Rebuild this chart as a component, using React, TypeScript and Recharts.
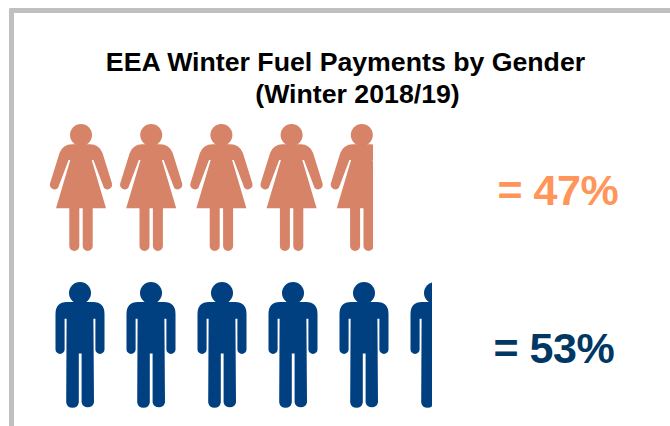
import { Bar, BarChart, LabelList, XAxis, YAxis } from "recharts";

const genders = ["Women", "Men"];
const iconCounts = [4.64, 5.475];
const shareLabels = ["= 47%", "= 53%"];

const chartData = genders.map((gender, i) => ({
  gender,
  icons: iconCounts[i],
  label: shareLabels[i],
}));

const colors = {
  frame: "#c0c0c0",
  Women: "#d68367",
  Men: "#003f80",
  labelWomen: "#ff9558",
  labelMen: "#003764",
};

const fontFamily = '"Liberation Sans", Arial, sans-serif';

const womanPath =
  "M-9 20.3 Q-18 20.3 -21.5 29 L-31 59.5 A4.8 4.8 0 0 0 -23 64 L-12.4 36 L-10.7 36 L-25 84.3 L-1.7 84.3 L-1.7 122 " +
  "A5 5 0 0 1 -11.7 122 L-11.7 84.3 L-1.7 84.3 L1.7 84.3 L11.7 84.3 L11.7 122 A5 5 0 0 1 1.7 122 L1.7 84.3 L25 84.3 " +
  "L10.7 36 L12.4 36 L23 64 A4.8 4.8 0 0 0 31 59.5 L21.5 29 Q18 20.3 9 20.3 Z";

const manPath =
  "M-13 20 Q-24.5 20 -24.5 32 L-24.5 67.4 A4.55 4.55 0 0 0 -15.4 67.4 L-15.4 36.8 L-13.4 36.8 L-13.8 120.5 " +
  "A6.4 6.4 0 0 0 -1.2 120.5 L-1.2 71.5 L1.6 71.5 L1.6 120.5 A6.4 6.4 0 0 0 14 120.5 L13.4 36.8 L15.4 36.8 L15.4 67.4 " +
  "A4.55 4.55 0 0 0 24.5 67.4 L24.5 32 Q24.5 20 13 20 Z";

const iconLayout: Record<string, { path: string; firstCenter: number; step: number }> = {
  Women: { path: womanPath, firstCenter: 35, step: 70.2 },
  Men: { path: manPath, firstCenter: 34, step: 71 },
};

const PictogramBar = (props: any) => {
  const { x, y, width, height, payload } = props;
  const { path, firstCenter, step } = iconLayout[payload.gender];
  const clipId = `row-${payload.gender}`;
  const icons = Array.from({ length: Math.ceil(payload.icons) }, (_, i) => i);
  return (
    <g>
      <defs>
        <clipPath id={clipId}>
          <rect x={x} y={y - 2} width={width} height={height + 4} />
        </clipPath>
      </defs>
      <g clipPath={`url(#${clipId})`} fill={colors[payload.gender as "Women" | "Men"]}>
        {icons.map((i) => (
          <g key={i} transform={`translate(${x + firstCenter + i * step}, ${y})`}>
            <circle cx={0} cy={11} r={11} />
            <path d={path} />
          </g>
        ))}
      </g>
    </g>
  );
};

const labelStarts = [497.5, 493.5];
const labelBaselineOffsets = [80.5, 81];

const ShareLabel = (props: any) => {
  const { y, value, index } = props;
  return (
    <text
      x={labelStarts[index]}
      y={y + labelBaselineOffsets[index]}
      fontFamily={fontFamily}
      fontWeight="bold"
      fontSize={43}
      letterSpacing={-0.5}
      fill={index === 0 ? colors.labelWomen : colors.labelMen}
    >
      {value}
    </text>
  );
};

export default function App() {
  return (
    <div style={{ position: "absolute", left: 0, top: 0, width: 670, height: 426, background: "#fff", overflow: "hidden" }}>
      <div
        style={{
          position: "absolute",
          left: 9,
          top: 8,
          width: 680,
          height: 440,
          borderTop: `5px solid ${colors.frame}`,
          borderLeft: `5px solid ${colors.frame}`,
          borderTopLeftRadius: 2,
        }}
      />
      <div style={{ position: "absolute", left: 0, top: 0 }}>
        <BarChart
          width={670}
          height={426}
          data={chartData}
          layout="vertical"
          margin={{ top: 108, right: 60, bottom: 2, left: 46 }}
          barSize={126}
        >
          <XAxis type="number" domain={[0, 8]} hide />
          <YAxis type="category" dataKey="gender" hide />
          <Bar dataKey="icons" shape={PictogramBar} isAnimationActive={false}>
            <LabelList dataKey="label" content={ShareLabel} />
          </Bar>
          <text x={345.5} y={71} textAnchor="middle" fontFamily={fontFamily} fontWeight="bold" fontSize={26.7} fill="#000">
            EEA Winter Fuel Payments by Gender
          </text>
          <text x={357.5} y={103} textAnchor="middle" fontFamily={fontFamily} fontWeight="bold" fontSize={26.7} fill="#000">
            (Winter 2018/19)
          </text>
        </BarChart>
      </div>
    </div>
  );
}
